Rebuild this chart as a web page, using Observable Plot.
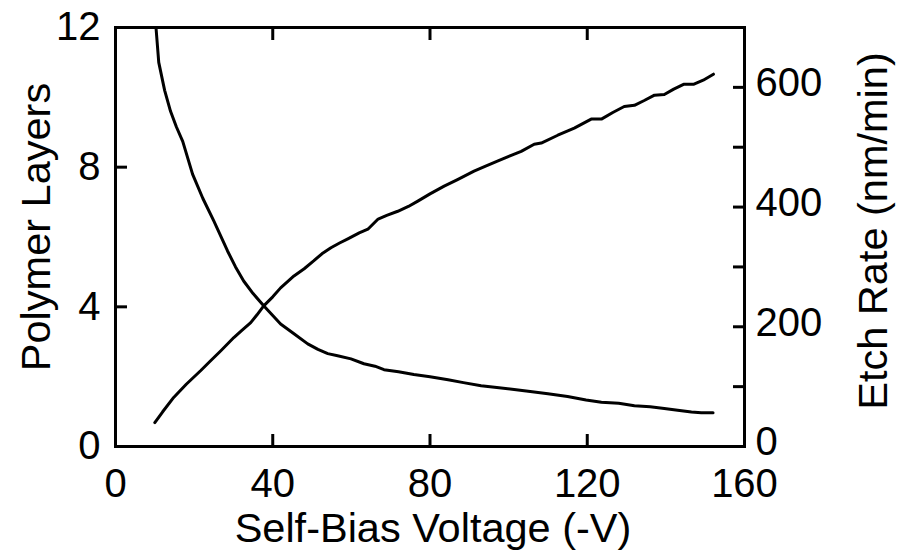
<!DOCTYPE html>
<html>
<head>
<meta charset="utf-8">
<script src="https://cdn.jsdelivr.net/npm/d3@7"></script>
<script src="https://cdn.jsdelivr.net/npm/@observablehq/plot@0.6"></script>
<style>
  html, body { margin: 0; padding: 0; background: #fff; }
</style>
</head>
<body>
<div id="chart"></div>
<script>
// ---- Data ----
const xTitle = "Self-Bias Voltage (-V)";
const yLeftTitle = "Polymer Layers";
const yRightTitle = "Etch Rate (nm/min)";

const xTicks = [0, 40, 80, 120, 160];
const xInnerTicks = [40, 80, 120];
const yLeftTicks = [0, 4, 8, 12];
const yRightTickLabels = [0, 200, 400, 600];
const yRightTickMarks = [100, 200, 300, 400, 500, 600];

const PL_MAX = 12;   // left axis max (layers)
const ER_MAX = 700;  // right axis max (nm/min)

// Polymer layers vs voltage
const plVoltage = [10.3, 11.0, 12.5, 14.0, 15.5, 17.1, 19.6, 22.2, 25.0, 28.5, 30.5, 32.6, 35.0, 37.7, 40.0, 42.0, 45.4, 48.9, 51.5, 54.0, 56.5, 59.9, 63.2, 66.0, 68.3, 72.0, 75.9, 80.0, 84.6, 88.5, 93.0, 97.0, 101.4, 106.0, 110.0, 115.0, 119.7, 123.6, 128.0, 132.0, 136.0, 139.6, 143.0, 146.5, 149.0, 152.0];
const plLayers  = [12.0, 11.0, 10.2, 9.6, 9.15, 8.74, 7.8, 7.11, 6.46, 5.6, 5.15, 4.74, 4.38, 4.03, 3.75, 3.51, 3.23, 2.94, 2.78, 2.66, 2.6, 2.51, 2.37, 2.3, 2.2, 2.14, 2.06, 2.0, 1.91, 1.83, 1.74, 1.69, 1.63, 1.57, 1.51, 1.43, 1.33, 1.27, 1.24, 1.17, 1.14, 1.09, 1.04, 0.99, 0.97, 0.97];

// Etch rate vs voltage
const erVoltage = [10.0, 12.0, 14.8, 18.0, 21.7, 24.0, 26.8, 30.1, 32.0, 34.4, 36.0, 37.7, 40.0, 42.0, 45.4, 48.0, 50.4, 52.5, 54.8, 57.0, 59.1, 62.0, 64.2, 66.8, 69.0, 71.8, 74.5, 76.9, 80.0, 83.6, 87.0, 91.2, 94.0, 97.3, 100.5, 103.2, 106.5, 108.3, 112.5, 116.7, 121.0, 123.6, 126.5, 129.4, 132.0, 134.5, 137.1, 139.6, 142.0, 144.5, 147.0, 149.5, 152.1];
const erRate    = [40, 58, 82, 104, 127, 142, 160, 182, 193, 207, 220, 235, 250, 265, 285, 297, 310, 322, 332, 340, 347, 357, 363, 380, 386, 393, 401, 410, 422, 435, 446, 460, 468, 477, 486, 493, 505, 507, 520, 532, 547, 547, 558, 568, 570, 578, 587, 588, 597, 605, 605, 612, 622];

// ---- Build ----
const toLeft = v => v * PL_MAX / ER_MAX;
const plData = plVoltage.map((v, i) => ({v, y: plLayers[i]}));
const erData = erVoltage.map((v, i) => ({v, y: toLeft(erRate[i])}));

const font = "'Liberation Sans', Arial, Helvetica, sans-serif";

const chart = Plot.plot({
  width: 900,
  height: 554,
  marginLeft: 115,
  marginRight: 156,
  marginTop: 27,
  marginBottom: 108,
  style: {fontFamily: font, fontSize: "40px", color: "#000", background: "#fff"},
  x: {domain: [0, 160]},
  y: {domain: [0, PL_MAX]},
  marks: [
    // bottom axis
    Plot.axisX({anchor: "bottom", ticks: xTicks, tickSize: -12, tickPadding: 34, strokeWidth: 3, label: null, fontSize: 40}),
    // top inner ticks
    Plot.axisX({anchor: "top", ticks: xInnerTicks, tickSize: -12, strokeWidth: 3, tickFormat: () => "", label: null}),
    // left axis
    Plot.axisY({anchor: "left", ticks: yLeftTicks, tickSize: -12, tickPadding: 27, strokeWidth: 3, label: null, fontSize: 40}),
    // right axis tick marks
    Plot.axisY({anchor: "right", ticks: yRightTickMarks.map(toLeft), tickSize: -12, strokeWidth: 3, tickFormat: () => "", label: null}),
    // right axis labels
    Plot.axisY({anchor: "right", ticks: yRightTickLabels.map(toLeft), tickSize: 0, tickPadding: 11, dy: -4, tickFormat: d => String(Math.round(d * ER_MAX / PL_MAX)), label: null, fontSize: 40}),
    Plot.frame({stroke: "#000", strokeWidth: 3}),
    Plot.line(plData, {x: "v", y: "y", stroke: "#000", strokeWidth: 3}),
    Plot.line(erData, {x: "v", y: "y", stroke: "#000", strokeWidth: 3}),
    // axis titles
    Plot.text([xTitle], {text: d => d, frameAnchor: "bottom", textAnchor: "middle", lineAnchor: "bottom", dy: 95, dx: 3, fontSize: 41.5, fill: "#000"}),
    Plot.text([yLeftTitle], {text: d => d, frameAnchor: "left", textAnchor: "middle", rotate: -90, lineAnchor: "top", dx: -95, dy: -10, fontSize: 41.5, fill: "#000"}),
    Plot.text([yRightTitle], {text: d => d, frameAnchor: "right", textAnchor: "middle", rotate: -90, lineAnchor: "top", dx: 113, dy: -6, fontSize: 41.5, fill: "#000"})
  ]
});

document.getElementById("chart").appendChild(chart);
</script>
</body>
</html>
